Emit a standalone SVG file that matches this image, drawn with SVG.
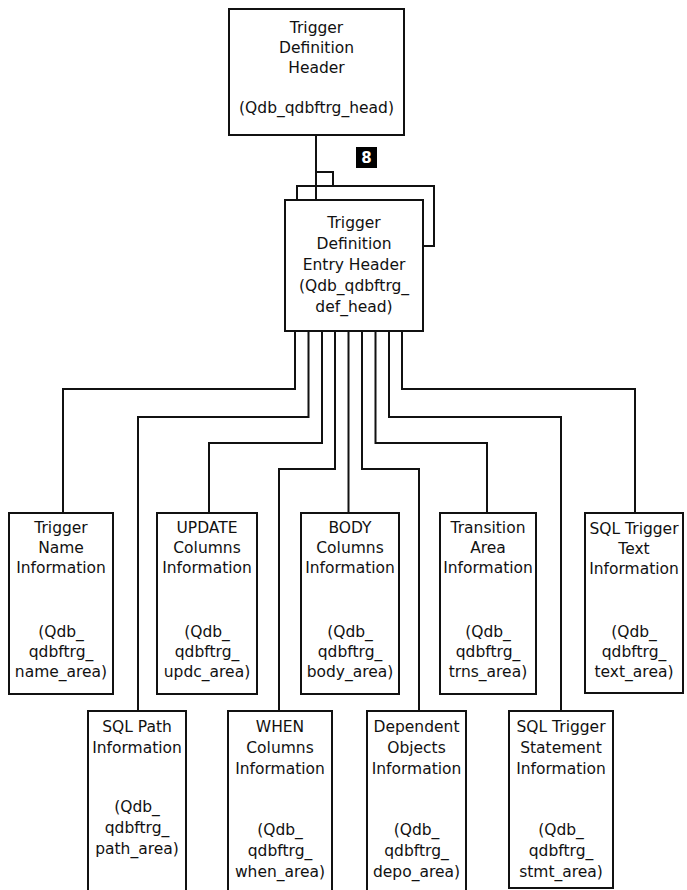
<svg xmlns="http://www.w3.org/2000/svg" width="687" height="890" viewBox="0 0 687 890">
<style>
.box{fill:#fff;stroke:#111;stroke-width:2}
.c{fill:none;stroke:#111;stroke-width:2}
text{font-family:"DejaVu Sans","Liberation Sans",sans-serif;font-size:15.5px;fill:#111;text-anchor:middle}
.badge{fill:#fff;font-weight:bold;font-size:15px}
</style>
<rect width="687" height="890" fill="#fff"/>
<g id="connectors">
<path class="c" d="M316 135V200"/>
<path class="c" d="M316 172H333V186"/>
<path class="c" d="M297 200V186H434V246H423"/>
<path class="c" d="M295 331V389H63V513"/>
<path class="c" d="M308.5 331V417H138V711"/>
<path class="c" d="M322 331V443H209V513"/>
<path class="c" d="M335 331V469H279V711"/>
<path class="c" d="M348.5 331V513"/>
<path class="c" d="M362 331V469H419V711"/>
<path class="c" d="M375.5 331V443H487V513"/>
<path class="c" d="M389 331V417H561V711"/>
<path class="c" d="M402 331V389H635V513"/>
</g>
<g id="badge8">
<rect x="356" y="147" width="21" height="21" fill="#000"/>
<text class="badge" x="366.5" y="163">8</text>
</g>
<g id="trg_head">
<rect class="box" x="229" y="9" width="175" height="126"/>
<text x="316.5" y="33">Trigger</text>
<text x="316.5" y="53">Definition</text>
<text x="316.5" y="73">Header</text>
<text x="316.5" y="113">(Qdb_qdbftrg_head)</text>
</g>
<g id="def_head">
<rect class="box" x="285" y="200" width="138" height="131"/>
<text x="354" y="228">Trigger</text>
<text x="354" y="249">Definition</text>
<text x="354" y="270">Entry Header</text>
<text x="354" y="291">(Qdb_qdbftrg_</text>
<text x="354" y="312">def_head)</text>
</g>
<g id="name_area">
<rect class="box" x="9" y="513" width="104" height="181"/>
<text x="61" y="533">Trigger</text>
<text x="61" y="553">Name</text>
<text x="61" y="573">Information</text>
<text x="61" y="637">(Qdb_</text>
<text x="61" y="657">qdbftrg_</text>
<text x="61" y="677">name_area)</text>
</g>
<g id="updc_area">
<rect class="box" x="157" y="513" width="100" height="181"/>
<text x="207" y="533">UPDATE</text>
<text x="207" y="553">Columns</text>
<text x="207" y="573">Information</text>
<text x="207" y="637">(Qdb_</text>
<text x="207" y="657">qdbftrg_</text>
<text x="207" y="677">updc_area)</text>
</g>
<g id="body_area">
<rect class="box" x="301" y="513" width="98" height="181"/>
<text x="350" y="533">BODY</text>
<text x="350" y="553">Columns</text>
<text x="350" y="573">Information</text>
<text x="350" y="637">(Qdb_</text>
<text x="350" y="657">qdbftrg_</text>
<text x="350" y="677">body_area)</text>
</g>
<g id="trns_area">
<rect class="box" x="440" y="513" width="96" height="181"/>
<text x="488" y="533">Transition</text>
<text x="488" y="553">Area</text>
<text x="488" y="573">Information</text>
<text x="488" y="637">(Qdb_</text>
<text x="488" y="657">qdbftrg_</text>
<text x="488" y="677">trns_area)</text>
</g>
<g id="text_area">
<rect class="box" x="585" y="513" width="98" height="180"/>
<text x="634" y="534">SQL Trigger</text>
<text x="634" y="554">Text</text>
<text x="634" y="574">Information</text>
<text x="634" y="637">(Qdb_</text>
<text x="634" y="657">qdbftrg_</text>
<text x="634" y="677">text_area)</text>
</g>
<g id="path_area">
<rect class="box" x="88" y="711" width="98" height="190"/>
<text x="137" y="732">SQL Path</text>
<text x="137" y="753">Information</text>
<text x="137" y="812">(Qdb_</text>
<text x="137" y="833">qdbftrg_</text>
<text x="137" y="854">path_area)</text>
</g>
<g id="when_area">
<rect class="box" x="228" y="711" width="104" height="190"/>
<text x="280" y="732">WHEN</text>
<text x="280" y="753">Columns</text>
<text x="280" y="774">Information</text>
<text x="280" y="835">(Qdb_</text>
<text x="280" y="856">qdbftrg_</text>
<text x="280" y="877">when_area)</text>
</g>
<g id="depo_area">
<rect class="box" x="367" y="711" width="99" height="190"/>
<text x="416.5" y="732">Dependent</text>
<text x="416.5" y="753">Objects</text>
<text x="416.5" y="774">Information</text>
<text x="416.5" y="835">(Qdb_</text>
<text x="416.5" y="856">qdbftrg_</text>
<text x="416.5" y="877">depo_area)</text>
</g>
<g id="stmt_area">
<rect class="box" x="509" y="711" width="104" height="177"/>
<text x="561" y="732">SQL Trigger</text>
<text x="561" y="753">Statement</text>
<text x="561" y="774">Information</text>
<text x="561" y="835">(Qdb_</text>
<text x="561" y="856">qdbftrg_</text>
<text x="561" y="877">stmt_area)</text>
</g>
</svg>
